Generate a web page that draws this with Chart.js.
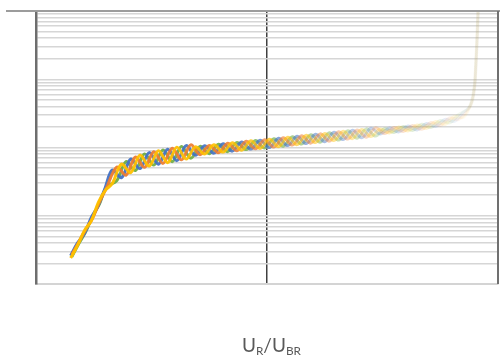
<!DOCTYPE html>
<html>
<head>
<meta charset="utf-8">
<script src="https://cdn.jsdelivr.net/npm/chart.js@4.4.1/dist/chart.umd.min.js"></script>
<style>
  html, body { margin: 0; padding: 0; background: #fff; }
  #wrap { position: relative; width: 500px; height: 363px; overflow: hidden; }
  #xTitle {
    position: absolute; left: 242px; top: 335px;
    font-family: Lato, "Open Sans", sans-serif; font-size: 19px; line-height: 1;
    color: #595959; white-space: nowrap;
  }
  #xTitle sub { font-size: 0.62em; vertical-align: -0.25em; }
</style>
</head>
<body>
<div id="wrap">
  <canvas id="chart" width="500" height="363"></canvas>
  <div id="xTitle">U<sub>R</sub>/U<sub>BR</sub></div>
</div>
<script>
// x positions (U_R/U_BR, centre line at 0)
const xMain = [-0.85, -0.82, -0.79, -0.76, -0.73, -0.70,
  -0.67, -0.63, -0.59, -0.55, -0.51, -0.47, -0.43, -0.39, -0.35, -0.31, -0.27, -0.23, -0.19, -0.15,
  -0.11, -0.07, -0.03, 0.01, 0.05, 0.09, 0.13, 0.17, 0.21, 0.25, 0.29, 0.33, 0.37, 0.41, 0.45,
  0.49, 0.53, 0.57, 0.61, 0.65, 0.69, 0.73, 0.77, 0.81, 0.85,
  0.875, 0.89, 0.90, 0.905, 0.91, 0.915];
const xShift = [-0.845, -0.815, -0.785, -0.755, -0.725, -0.695,
  -0.65, -0.61, -0.57, -0.53, -0.49, -0.45, -0.41, -0.37, -0.33, -0.29, -0.25, -0.21, -0.17, -0.13,
  -0.09, -0.05, -0.01, 0.03, 0.07, 0.11, 0.15, 0.19, 0.23, 0.27, 0.31, 0.35, 0.39, 0.43, 0.47,
  0.51, 0.55, 0.59, 0.63, 0.67, 0.71, 0.75, 0.79, 0.83,
  0.87, 0.885, 0.897, 0.903, 0.908, 0.913];

// series values (log axis)
const seriesBlue = [0.0026, 0.0040, 0.0055, 0.0095, 0.0142, 0.026,
  0.0466, 0.0362, 0.0675, 0.0491, 0.0842, 0.057, 0.0945, 0.0642, 0.1065,
  0.0773, 0.1057, 0.0827, 0.1132, 0.0885, 0.1208, 0.0948, 0.1277, 0.0996, 0.1362,
  0.1066, 0.1457, 0.114, 0.1558, 0.1218, 0.1668, 0.1305, 0.1783, 0.1392, 0.1909,
  0.1578, 0.1934, 0.1689, 0.2071, 0.1803, 0.2251, 0.2033, 0.2578, 0.241, 0.3259,
  0.38, 0.50, 0.82, 1.6, 3.7, 10];
const seriesGold = [0.0024, 0.0037, 0.0061, 0.0085, 0.0157, 0.0235,
  0.0296, 0.0571, 0.0429, 0.0774, 0.0534, 0.0898, 0.06, 0.1012, 0.0676,
  0.1022, 0.08, 0.1093, 0.0856, 0.117, 0.0914, 0.1254, 0.0966, 0.1317, 0.103,
  0.1409, 0.1102, 0.1507, 0.1179, 0.161, 0.1262, 0.1725, 0.1349, 0.184, 0.1444,
  0.1869, 0.1632, 0.2001, 0.1748, 0.2136, 0.19, 0.2409, 0.2176, 0.2856, 0.2751,
  0.37, 0.49, 0.83, 1.65, 3.8, 10];
const seriesOrange = [0.0027, 0.0041, 0.0063, 0.0092, 0.0160, 0.0255,
  0.0517, 0.0394, 0.0723, 0.0512, 0.0869, 0.0585, 0.0978, 0.0659, 0.1092,
  0.0786, 0.1074, 0.0841, 0.115, 0.0899, 0.123, 0.0957, 0.1296, 0.1013, 0.1385,
  0.1084, 0.1481, 0.1159, 0.1584, 0.124, 0.1696, 0.1327, 0.1811, 0.1418, 0.194,
  0.1604, 0.1967, 0.1719, 0.2104, 0.1849, 0.2328, 0.2103, 0.2714, 0.2576,
  0.36, 0.46, 0.75, 1.5, 3.5, 10];
const seriesGreen = [0.0025, 0.0039, 0.0058, 0.0098, 0.0150, 0.0262,
  0.0328, 0.0621, 0.0459, 0.0806, 0.0552, 0.0921, 0.0621, 0.1038, 0.0694,
  0.104, 0.0813, 0.1112, 0.087, 0.1188, 0.0931, 0.1265, 0.098, 0.1339, 0.1047,
  0.1433, 0.1121, 0.1532, 0.1198, 0.1639, 0.1283, 0.1754, 0.137, 0.1875, 0.1468,
  0.1901, 0.1661, 0.2036, 0.1776, 0.2191, 0.1965, 0.2492, 0.2291, 0.3052,
  0.37, 0.47, 0.78, 1.55, 3.6, 10];

// gridline positions
const yGridValues = [0.001, 0.002, 0.003, 0.004, 0.005, 0.006, 0.007, 0.008, 0.009,
  0.01, 0.02, 0.03, 0.04, 0.05, 0.06, 0.07, 0.08, 0.09,
  0.1, 0.2, 0.3, 0.4, 0.5, 0.6, 0.7, 0.8, 0.9,
  1, 2, 3, 4, 5, 6, 7, 8, 9, 10];
const xGridValues = [0];

function rgba(hex, a) {
  const n = parseInt(hex.slice(1), 16);
  return 'rgba(' + (n >> 16) + ',' + ((n >> 8) & 255) + ',' + (n & 255) + ',' + a + ')';
}

// colours fade out toward the right like the reference
function fadeColor(hex) {
  return function(context) {
    const chart = context.chart;
    const area = chart.chartArea;
    if (!area) return hex;
    const g = chart.ctx.createLinearGradient(area.left, 0, area.right, 0);
    g.addColorStop(0, rgba(hex, 1));
    g.addColorStop(0.4, rgba(hex, 0.9));
    g.addColorStop(0.55, rgba(hex, 0.6));
    g.addColorStop(0.7, rgba(hex, 0.33));
    g.addColorStop(0.85, rgba(hex, 0.16));
    g.addColorStop(0.93, rgba(hex, 0.07));
    g.addColorStop(1, rgba(hex, 0.04));
    return g;
  };
}

function makeSet(xs, ys, color) {
  return {
    data: xs.map((x, i) => ({ x: x, y: ys[i] })),
    borderColor: fadeColor(color),
    borderWidth: 3,
    pointRadius: 0,
    tension: 0.35,
    fill: false
  };
}

const frameLines = {
  id: 'frameLines',
  afterDraw(chart) {
    const c = chart.ctx, a = chart.chartArea;
    c.save();
    c.strokeStyle = '#9c9c9c';
    c.lineWidth = 2;
    c.beginPath();
    c.moveTo(6, a.top);
    c.lineTo(chart.width, a.top);
    c.stroke();
    c.strokeStyle = '#707070';
    c.beginPath();
    c.moveTo(a.right, a.top);
    c.lineTo(a.right, a.bottom);
    c.stroke();
    c.restore();
  }
};

new Chart(document.getElementById('chart'), {
  type: 'line',
  data: {
    datasets: [
      makeSet(xMain, seriesGold, '#FFC000'),
      makeSet(xShift, seriesOrange, '#ED7D31'),
      makeSet(xMain, seriesBlue, '#4472C4'),
      makeSet(xShift, seriesGreen, '#70AD47')
    ]
  },
  options: {
    responsive: false,
    animation: false,
    layout: { padding: { left: 36, right: 2, top: 11, bottom: 79 } },
    plugins: { legend: { display: false }, tooltip: { enabled: false } },
    scales: {
      x: {
        type: 'linear',
        min: -1,
        max: 1,
        afterBuildTicks: axis => { axis.ticks = xGridValues.map(v => ({ value: v })); },
        ticks: { display: false },
        grid: { color: '#404040', lineWidth: 1.5, drawTicks: false },
        border: { display: true, color: '#d4d4d4', width: 2 }
      },
      y: {
        type: 'logarithmic',
        min: 0.001,
        max: 10,
        afterBuildTicks: axis => { axis.ticks = yGridValues.map(v => ({ value: v })); },
        ticks: { display: false },
        grid: { color: '#d6d6d6', lineWidth: 1.5, drawTicks: false },
        border: { display: true, color: '#6e6e6e', width: 2.5 }
      }
    }
  },
  plugins: [frameLines]
});
</script>
</body>
</html>
